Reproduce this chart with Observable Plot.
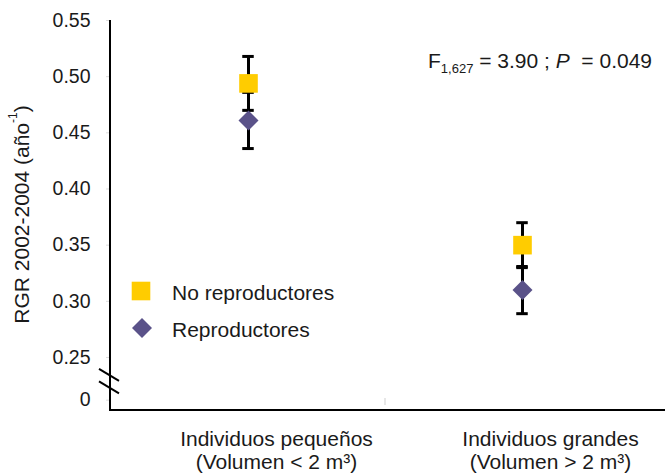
<!DOCTYPE html>
<html><head><meta charset="utf-8">
<script src="https://cdn.jsdelivr.net/npm/d3@7"></script>
<script src="https://cdn.jsdelivr.net/npm/@observablehq/plot@0.6"></script>
<style>
body{margin:0;background:#fff;}
#chart{width:665px;height:473px;}
svg{font-family:"Liberation Sans", Arial, sans-serif;}
</style>
</head><body><div id="chart"></div>
<script>
// ---- data ----
const groups = ["Individuos pequeños\n(Volumen < 2 m³)", "Individuos grandes\n(Volumen > 2 m³)"];
const seriesNames = ["No reproductores", "Reproductores"];
const seriesSymbols = ["square", "diamond2"];
const seriesColors = ["#FFCC00", "#5A5289"];
const seriesR = [10.5, 9];
const noRepMean = [0.494, 0.350];
const noRepErr = [0.024, 0.020];
const repMean = [0.461, 0.310];
const repErr = [0.025, 0.021];
const yTickValues = [0.212, 0.25, 0.30, 0.35, 0.40, 0.45, 0.50, 0.55];
const yTickLabels = ["0", "0.25", "0.30", "0.35", "0.40", "0.45", "0.50", "0.55"];
const yDomain = [0.2028, 0.55];
const breakValues = [0.234, 0.223];
const yTitle = "RGR 2002-2004 (año";
const yTitleSup = "-1";
const yTitleEnd = ")";
const statF = "F";
const statSub = "1,627";
const statMid = " = 3.90 ; ";
const statP = "P";
const statEnd = " \u00A0= 0.049";

// ---- table ----
const means = [noRepMean, repMean];
const errs = [noRepErr, repErr];
const rows = [];
seriesNames.forEach((s, si) => groups.forEach((g, gi) => rows.push({
  series: s, group: g, mean: means[si][gi],
  lo: means[si][gi] - errs[si][gi], hi: means[si][gi] + errs[si][gi]
})));

const W = 665, H = 473, mL = 110, mR = 6, mT = 20, mB = 63;
const capW = 12;
const bandW = (W - mL - mR) / groups.length;
const capInset = (bandW - capW) / 2;

const plot = Plot.plot({
  width: W, height: H,
  marginLeft: mL, marginRight: mR, marginTop: mT, marginBottom: mB,
  style: {fontFamily: '"Liberation Sans", Arial, sans-serif', background: "#fff"},
  x: {type: "band", domain: groups, padding: 0},
  y: {domain: yDomain},
  marks: [
    Plot.axisY({ticks: yTickValues, tickFormat: d => yTickLabels[yTickValues.indexOf(d)],
      tickSize: 4, tickPadding: 16, fontSize: 19.5, stroke: "#dcdcdc", fill: "#1a1a1a", label: null}),
    Plot.axisX({tickSize: 0, tickPadding: 19, fontSize: 21, lineHeight: 1.1, dx: 28, fill: "#1a1a1a", label: null}),
    Plot.ruleX(rows, {x: "group", y1: "lo", y2: "hi", stroke: "#000", strokeWidth: 3}),
    Plot.tickY(rows, {x: "group", y: "lo", stroke: "#000", strokeWidth: 3, insetLeft: capInset, insetRight: capInset}),
    Plot.tickY(rows, {x: "group", y: "hi", stroke: "#000", strokeWidth: 3, insetLeft: capInset, insetRight: capInset}),
    ...seriesNames.map((s, si) => Plot.dot(rows.filter(r => r.series === s), {
      x: "group", y: "mean", symbol: seriesSymbols[si], r: seriesR[si], fill: seriesColors[si], stroke: "none"
    }))
  ]
});
document.getElementById("chart").appendChild(plot);

const svg = d3.select(plot);
const xs = plot.scale("x"), ys = plot.scale("y");
const yTop = ys.apply(yDomain[1]), yBot = ys.apply(yDomain[0]);

// axes lines
svg.append("line").attr("x1", mL).attr("x2", mL).attr("y1", yTop).attr("y2", yBot + 1)
  .attr("stroke", "#000").attr("stroke-width", 2);
svg.append("line").attr("x1", mL - 1).attr("x2", W).attr("y1", yBot).attr("y2", yBot)
  .attr("stroke", "#000").attr("stroke-width", 2);
// faint category divider tick
const midX = xs.apply(groups[1]);
svg.append("line").attr("x1", midX).attr("x2", midX).attr("y1", yBot - 12).attr("y2", yBot - 5)
  .attr("stroke", "#cfcfcf").attr("stroke-width", 1);
// axis break marks
breakValues.forEach(v => {
  const cy = ys.apply(v);
  svg.append("line").attr("x1", mL - 11).attr("x2", mL + 9).attr("y1", cy - 6).attr("y2", cy + 6)
    .attr("stroke", "#000").attr("stroke-width", 2);
});

// y title
const yt = svg.append("text")
  .attr("transform", `translate(21,${(yTop + ys.apply(0.25)) / 2 + 26}) rotate(-90)`)
  .attr("text-anchor", "middle").attr("dominant-baseline", "central")
  .attr("font-size", 21).attr("fill", "#1a1a1a");
yt.append("tspan").text(yTitle);
yt.append("tspan").attr("font-size", 12).attr("dy", -8).text(yTitleSup);
yt.append("tspan").attr("dy", 8).text(yTitleEnd);

// statistics annotation
const st = svg.append("text").attr("x", 428).attr("y", 68).attr("font-size", 21)
  .attr("text-anchor", "start").attr("fill", "#1a1a1a").style("white-space", "pre");
st.append("tspan").text(statF);
st.append("tspan").attr("font-size", 13).attr("dy", 5).text(statSub);
st.append("tspan").attr("dy", -5).text(statMid);
st.append("tspan").attr("font-style", "italic").text(statP);
st.append("tspan").text(statEnd);

// legend
const legY = [291, 328];
seriesNames.forEach((s, si) => {
  const r = seriesR[si];
  const sym = si === 0 ? d3.symbolSquare : d3.symbolDiamond2;
  svg.append("path").attr("d", d3.symbol(sym, Math.PI * r * r)())
    .attr("transform", `translate(${141 + si},${legY[si]})`).attr("fill", seriesColors[si]);
  svg.append("text").attr("x", 172).attr("y", legY[si] + 1).attr("dominant-baseline", "central")
    .attr("text-anchor", "start").attr("font-size", 21).attr("fill", "#1a1a1a").text(s);
});
</script>
</body></html>
